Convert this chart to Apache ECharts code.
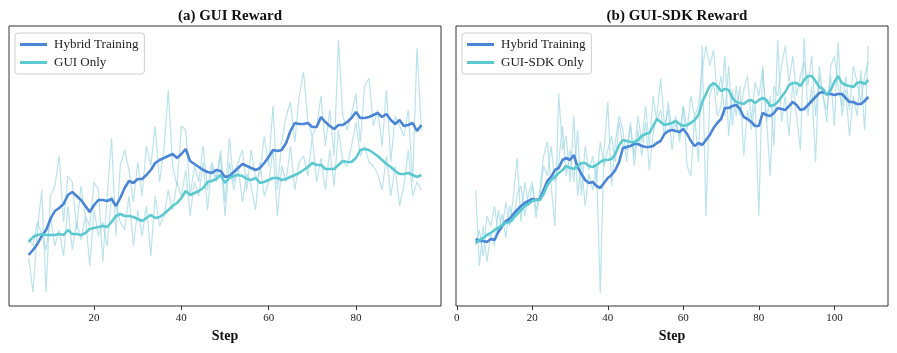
<!DOCTYPE html>
<html>
<head>
<meta charset="utf-8">
<title>GUI / GUI-SDK Reward</title>
<script src="https://cdn.jsdelivr.net/npm/echarts@6/dist/echarts.min.js"></script>
<style>
  html, body { margin: 0; padding: 0; background: #fff; }
  #chart { width: 897px; height: 353px; }
</style>
</head>
<body>
<div id="chart"></div>
<script>
// (a) GUI Reward, steps 5..95
const startA = 5
const hybridA = [
  0.255, 0.28, 0.31, 0.35, 0.38, 0.435, 0.475, 0.49, 0.51, 0.555,
  0.57, 0.55, 0.53, 0.50, 0.47, 0.505, 0.53, 0.53, 0.525, 0.535,
  0.50, 0.54, 0.59, 0.625, 0.615, 0.635, 0.635, 0.655, 0.68, 0.715,
  0.73, 0.74, 0.75, 0.76, 0.74, 0.76, 0.785, 0.725, 0.71, 0.695,
  0.68, 0.67, 0.665, 0.68, 0.675, 0.645, 0.65, 0.67, 0.69, 0.71,
  0.70, 0.69, 0.68, 0.69, 0.715, 0.745, 0.78, 0.775, 0.78, 0.815,
  0.875, 0.915, 0.91, 0.91, 0.915, 0.895, 0.895, 0.945, 0.92, 0.90,
  0.885, 0.905, 0.905, 0.92, 0.94, 0.97, 0.94, 0.94, 0.945, 0.955,
  0.965, 0.945, 0.96, 0.93, 0.91, 0.93, 0.90, 0.905, 0.915, 0.875, 0.905
]
const guiOnlyA = [
  0.32, 0.345, 0.355, 0.36, 0.355, 0.355, 0.355, 0.36, 0.355, 0.38,
  0.36, 0.36, 0.355, 0.365, 0.385, 0.39, 0.395, 0.40, 0.395, 0.42,
  0.45, 0.46, 0.45, 0.45, 0.445, 0.435, 0.425, 0.44, 0.455, 0.44,
  0.445, 0.46, 0.48, 0.50, 0.515, 0.54, 0.575, 0.555, 0.565, 0.575,
  0.59, 0.62, 0.625, 0.635, 0.655, 0.615, 0.64, 0.65, 0.655, 0.65,
  0.635, 0.63, 0.64, 0.615, 0.62, 0.63, 0.64, 0.64, 0.63, 0.635,
  0.645, 0.655, 0.665, 0.68, 0.695, 0.715, 0.705, 0.705, 0.685, 0.685,
  0.685, 0.705, 0.725, 0.72, 0.72, 0.74, 0.78, 0.785, 0.78, 0.765,
  0.75, 0.73, 0.71, 0.695, 0.675, 0.66, 0.66, 0.665, 0.655, 0.645, 0.655
]
const hybridRawA = [
  0.24, 0.07, 0.38, 0.58, 0.07, 0.55, 0.60, 0.75, 0.42, 0.65,
  0.62, 0.38, 0.60, 0.45, 0.40, 0.62, 0.58, 0.22, 0.55, 0.84,
  0.35, 0.70, 0.78, 0.68, 0.52, 0.72, 0.55, 0.80, 0.70, 0.90,
  0.62, 0.78, 1.08, 0.70, 0.60, 0.90, 0.88, 0.55, 0.70, 0.62,
  0.80, 0.58, 0.72, 0.64, 0.78, 0.52, 0.84, 0.62, 0.72, 0.78,
  0.58, 0.78, 0.64, 0.66, 0.85, 0.70, 1.00, 0.58, 0.82, 0.95,
  1.02, 0.82, 1.05, 1.17, 0.92, 0.85, 0.90, 1.05, 0.80, 0.98,
  0.75, 1.33, 0.95, 0.88, 0.96, 1.06, 0.82, 1.10, 1.14, 0.90,
  0.98, 0.80, 1.08, 0.72, 0.95, 0.90, 0.85, 0.98, 0.62, 1.29, 0.88
]
const guiOnlyRawA = [
  0.34, 0.30, 0.42, 0.36, 0.28, 0.45, 0.30, 0.38, 0.25, 0.50,
  0.28, 0.42, 0.33, 0.45, 0.20, 0.48, 0.35, 0.42, 0.30, 0.55,
  0.50, 0.42, 0.38, 0.55, 0.30, 0.48, 0.35, 0.50, 0.25, 0.55,
  0.40, 0.45, 0.58, 0.48, 0.62, 0.55, 0.68, 0.45, 0.62, 0.55,
  0.72, 0.48, 0.70, 0.62, 0.75, 0.45, 0.72, 0.58, 0.70, 0.52,
  0.66, 0.60, 0.48, 0.72, 0.55, 0.62, 0.78, 0.45, 0.70, 0.62,
  0.80, 0.58, 0.72, 0.75, 0.65, 0.85, 0.62, 0.74, 0.58, 0.78,
  0.60, 0.88, 0.72, 0.70, 0.80, 0.92, 0.75, 0.80, 0.72, 0.70,
  0.66, 0.58, 0.75, 0.55, 0.70, 0.50, 0.60, 0.78, 0.55, 0.62, 0.58
]

// (b) GUI-SDK Reward, steps 5..109
const startB = 5
const hybridB = [
  0.335, 0.325, 0.325, 0.32, 0.335, 0.33, 0.37, 0.40, 0.425, 0.435,
  0.46, 0.48, 0.50, 0.515, 0.525, 0.535, 0.53, 0.535, 0.58, 0.625,
  0.645, 0.68, 0.69, 0.73, 0.74, 0.73, 0.755, 0.695, 0.66, 0.63,
  0.615, 0.62, 0.60, 0.59, 0.615, 0.64, 0.655, 0.68, 0.72, 0.79,
  0.795, 0.80, 0.81, 0.81, 0.80, 0.795, 0.795, 0.80, 0.815, 0.825,
  0.86, 0.875, 0.88, 0.875, 0.87, 0.885, 0.86, 0.825, 0.80, 0.815,
  0.805, 0.83, 0.855, 0.89, 0.915, 0.935, 0.99, 0.99, 1.00, 1.005,
  0.985, 0.945, 0.935, 0.92, 0.90, 0.90, 0.965, 0.955, 0.95, 0.965,
  0.99, 0.985, 0.98, 1.00, 1.02, 1.005, 0.98, 0.985, 1.005, 1.025,
  1.045, 1.065, 1.07, 1.06, 1.06, 1.055, 1.06, 1.06, 1.04, 1.02,
  1.02, 1.01, 1.01, 1.025, 1.045
]
const sdkOnlyB = [
  0.315, 0.33, 0.34, 0.355, 0.365, 0.38, 0.39, 0.405, 0.415, 0.42,
  0.44, 0.46, 0.48, 0.50, 0.51, 0.525, 0.53, 0.53, 0.56, 0.605,
  0.63, 0.645, 0.665, 0.68, 0.70, 0.69, 0.685, 0.70, 0.715, 0.715,
  0.70, 0.695, 0.705, 0.72, 0.73, 0.73, 0.735, 0.76, 0.805, 0.83,
  0.825, 0.82, 0.82, 0.83, 0.85, 0.86, 0.865, 0.90, 0.935, 0.92,
  0.905, 0.91, 0.915, 0.925, 0.91, 0.90, 0.905, 0.915, 0.93, 0.955,
  1.02, 1.06, 1.10, 1.115, 1.10, 1.075, 1.085, 1.08, 1.04, 1.02,
  1.015, 1.01, 1.025, 1.03, 1.015, 1.03, 1.04, 1.03, 1.00, 1.005,
  1.02, 1.045, 1.07, 1.105, 1.115, 1.115, 1.10, 1.13, 1.15, 1.15,
  1.125, 1.095, 1.085, 1.055, 1.08, 1.12, 1.15, 1.115, 1.105, 1.10,
  1.095, 1.115, 1.12, 1.11, 1.13
]
const hybridRawB = [
  0.58, 0.20, 0.40, 0.22, 0.36, 0.30, 0.48, 0.38, 0.52, 0.40,
  0.55, 0.74, 0.42, 0.62, 0.50, 0.60, 0.44, 0.58, 0.75, 0.82,
  0.60, 0.40, 1.06, 0.78, 0.85, 0.62, 0.95, 0.55, 0.72, 0.50,
  0.66, 0.58, 0.70, 0.065, 0.78, 1.02, 0.60, 0.82, 0.95, 0.88,
  0.72, 0.92, 0.70, 0.88, 0.75, 0.92, 0.68, 0.86, 0.95, 1.14,
  0.90, 0.98, 0.78, 0.92, 0.85, 1.00, 0.70, 0.65, 0.95, 0.72,
  1.30, 0.45, 1.05, 1.12, 0.95, 1.00, 1.25, 0.85, 1.08, 0.95,
  1.10, 0.75, 0.98, 0.88, 1.02, 0.45, 1.20, 0.92, 1.05, 0.80,
  1.33, 0.92, 1.05, 0.85, 1.12, 0.95, 0.78, 1.34, 0.95, 1.10,
  0.72, 1.20, 1.05, 0.98, 1.15, 0.90, 1.32, 0.95, 1.08, 0.85,
  1.05, 0.95, 1.18, 0.88, 1.30
]
const sdkOnlyRawB = [
  0.30, 0.38, 0.25, 0.45, 0.40, 0.50, 0.36, 0.46, 0.34, 0.50,
  0.42, 0.56, 0.60, 0.45, 0.56, 0.62, 0.48, 0.55, 0.70, 0.65,
  0.80, 0.62, 0.72, 0.90, 0.65, 0.78, 0.62, 0.88, 0.55, 0.80,
  0.68, 0.75, 0.62, 0.82, 0.70, 0.78, 0.85, 0.72, 0.92, 0.80,
  0.78, 0.90, 0.75, 0.95, 0.82, 1.00, 0.80, 1.05, 0.92, 0.98,
  0.85, 1.02, 0.88, 0.95, 0.82, 1.00, 0.88, 1.05, 0.95, 1.00,
  1.18, 1.30, 1.20, 1.28, 1.05, 1.15, 0.95, 1.20, 0.90, 1.10,
  0.95, 1.08, 1.15, 0.92, 1.12, 1.05, 1.18, 0.95, 0.65, 1.10,
  1.05, 1.20, 1.30, 1.12, 1.25, 1.05, 1.15, 1.22, 1.10, 1.25,
  0.95, 1.15, 1.05, 0.92, 1.20, 1.25, 1.10, 1.00, 1.15, 0.98,
  1.20, 1.12, 1.02, 1.15, 1.22
]

const ticksA = [20, 40, 60, 80]
const ticksB = [0, 20, 40, 60, 80, 100]

const BLUE = '#4a85d8'
const TEAL = '#5cc9d1'
const RAW = 'rgba(150, 212, 226, 0.65)'
const SERIF = '"Liberation Serif", "DejaVu Serif", serif'

function pairs(start, vals) {
  return vals.map((v, i) => [start + i, v])
}

function line(name, idx, data, color, width, z) {
  return {
    name: name,
    type: 'line',
    xAxisIndex: idx,
    yAxisIndex: idx,
    data: data,
    symbol: 'none',
    z: z,
    lineStyle: { color: color, width: width },
    itemStyle: { color: color }
  }
}

function xAxis(idx, min, max, ticks) {
  return {
    type: 'value',
    gridIndex: idx,
    min: min,
    max: max,
    name: 'Step',
    nameLocation: 'middle',
    nameGap: 22,
    nameTextStyle: { fontFamily: SERIF, fontWeight: 'bold', fontSize: 14, color: '#111' },
    axisLine: { show: false },
    axisTick: { show: true, length: 4, lineStyle: { color: '#333' }, customValues: ticks },
    axisLabel: { fontFamily: SERIF, fontSize: 11, color: '#222', margin: 7, customValues: ticks },
    splitLine: { show: false }
  }
}

function yAxis(idx) {
  return {
    type: 'value',
    gridIndex: idx,
    min: 0,
    max: 1.4,
    axisLine: { show: false },
    axisTick: { show: false },
    axisLabel: { show: false },
    splitLine: { show: false }
  }
}

function legend(left, names) {
  return {
    left: left,
    top: 33,
    orient: 'vertical',
    data: names,
    icon: 'rect',
    itemWidth: 27,
    itemHeight: 3,
    itemGap: 5,
    padding: [5, 6, 5, 5],
    backgroundColor: '#fff',
    borderColor: '#cfcfcf',
    borderWidth: 1,
    borderRadius: 3,
    textStyle: { fontFamily: SERIF, fontSize: 13, color: '#222', padding: [0, 0, 0, 2] }
  }
}

const chart = echarts.init(document.getElementById('chart'))
chart.setOption({
  animation: false,
  backgroundColor: '#fff',
  title: [
    { text: '(a) GUI Reward', left: 225, top: 4, textAlign: 'center',
      textStyle: { fontFamily: SERIF, fontWeight: 'bold', fontSize: 15, color: '#111' } },
    { text: '(b) GUI-SDK Reward', left: 672, top: 4, textAlign: 'center',
      textStyle: { fontFamily: SERIF, fontWeight: 'bold', fontSize: 15, color: '#111' } }
  ],
  legend: [
    legend(15, ['Hybrid Training', 'GUI Only']),
    legend(462, ['Hybrid Training', 'GUI-SDK Only'])
  ],
  grid: [
    { left: 9, top: 26, width: 432, height: 280, show: true, borderColor: '#333', borderWidth: 1, backgroundColor: '#fff' },
    { left: 456, top: 26, width: 432, height: 280, show: true, borderColor: '#333', borderWidth: 1, backgroundColor: '#fff' }
  ],
  xAxis: [xAxis(0, 0.5, 99.5, ticksA), xAxis(1, -0.2, 114.2, ticksB)],
  yAxis: [yAxis(0), yAxis(1)],
  series: [
    line('Hybrid Training raw', 0, pairs(startA, hybridRawA), RAW, 1.2, 1),
    line('GUI Only raw', 0, pairs(startA, guiOnlyRawA), RAW, 1.2, 1),
    line('Hybrid Training', 0, pairs(startA, hybridA), BLUE, 2.6, 3),
    line('GUI Only', 0, pairs(startA, guiOnlyA), TEAL, 2.6, 3),
    line('Hybrid Training raw', 1, pairs(startB, hybridRawB), RAW, 1.2, 1),
    line('GUI-SDK Only raw', 1, pairs(startB, sdkOnlyRawB), RAW, 1.2, 1),
    line('Hybrid Training', 1, pairs(startB, hybridB), BLUE, 2.6, 3),
    line('GUI-SDK Only', 1, pairs(startB, sdkOnlyB), TEAL, 2.6, 3)
  ]
})
</script>
</body>
</html>
